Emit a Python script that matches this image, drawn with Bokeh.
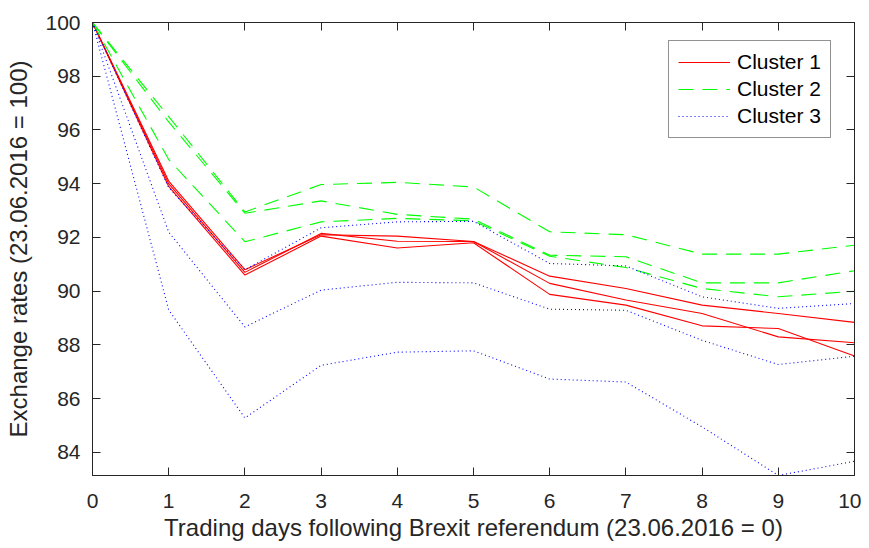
from bokeh.plotting import figure
from bokeh.models import Range1d, LinearAxis, FixedTicker, Legend, LegendItem
from bokeh.embed import file_html
from bokeh.resources import INLINE

days = list(range(11))

cluster1 = [
    [100, 94.10, 90.80, 92.10, 92.05, 91.85, 90.56, 90.10, 89.48, 89.17, 88.84],
    [100, 94.00, 90.70, 92.15, 91.86, 91.85, 90.29, 89.67, 89.17, 88.30, 88.08],
    [100, 93.90, 90.60, 92.05, 91.61, 91.80, 89.88, 89.48, 88.71, 88.61, 87.59],
]
cluster2 = [
    [100, 96.50, 92.95, 93.97, 94.05, 93.88, 92.21, 92.10, 91.38, 91.38, 91.71],
    [100, 96.30, 92.90, 93.36, 92.86, 92.68, 91.34, 91.28, 90.31, 90.31, 90.76],
    [100, 94.90, 91.84, 92.58, 92.71, 92.62, 91.30, 90.88, 90.10, 89.79, 90.00],
]
cluster3 = [
    [100, 93.85, 90.80, 92.36, 92.58, 92.60, 91.03, 90.94, 89.79, 89.36, 89.54],
    [100, 92.20, 88.67, 90.04, 90.33, 90.31, 89.33, 89.29, 88.17, 87.27, 87.58],
    [100, 89.30, 85.28, 87.24, 87.73, 87.78, 86.73, 86.62, 84.95, 83.14, 83.67],
]
legend_labels = ["Cluster 1", "Cluster 2", "Cluster 3"]
x_ticks = list(range(0, 11))
y_ticks = list(range(84, 101, 2))

FONT = "Liberation Sans"
TXT = "#262626"

all_vals = [v for grp in (cluster1, cluster2, cluster3) for s in grp for v in s]
y_lo = min(all_vals)
y_hi = max(all_vals)

p = figure(width=861, height=548, output_backend="svg", toolbar_location=None,
           x_range=Range1d(0, 10), y_range=Range1d(y_lo, y_hi),
           min_border_left=92, min_border_right=7, min_border_top=22, min_border_bottom=73)
p.xgrid.visible = False
p.ygrid.visible = False
p.outline_line_color = TXT
p.outline_line_width = 1
p.background_fill_color = "white"
p.border_fill_color = "white"

styles = [
    dict(color="#FF0000", line_dash="solid"),
    dict(color="#00FF00", line_dash="15 9"),
    dict(color="#0000FF", line_dash="1 3"),
]
items = []
for grp, st, lab in zip((cluster1, cluster2, cluster3), styles, legend_labels):
    rs = []
    for s in grp:
        r = p.line(days, s, line_color=st["color"], line_dash=st["line_dash"], line_width=1.1)
        rs.append(r)
    items.append(LegendItem(label=lab, renderers=[rs[0]]))

legend = Legend(items=items, location=(576, 337))
legend.label_text_font = FONT
legend.label_text_font_size = "21px"
legend.label_text_color = "black"
legend.glyph_width = 52
legend.glyph_height = 18
legend.label_height = 18
legend.label_standoff = 7
legend.spacing = 3
legend.padding = 9
legend.margin = 0
legend.border_line_color = TXT
legend.border_line_width = 1
legend.background_fill_color = "white"
legend.background_fill_alpha = 1
p.add_layout(legend, "center")

def style_axis(ax, ticks):
    ax.ticker = FixedTicker(ticks=ticks)
    ax.axis_line_color = TXT
    ax.axis_line_width = 1
    ax.major_tick_line_color = TXT
    ax.major_tick_in = 8
    ax.major_tick_out = 0
    ax.minor_tick_line_color = None
    ax.major_label_text_font = FONT
    ax.major_label_text_color = TXT
    ax.axis_label_text_font = FONT
    ax.axis_label_text_color = TXT
    ax.axis_label_text_font_style = "normal"

style_axis(p.xaxis[0], x_ticks)
style_axis(p.yaxis[0], y_ticks)
p.xaxis[0].major_label_text_font_size = "21px"
p.yaxis[0].major_label_text_font_size = "21px"
p.xaxis[0].axis_label = "Trading days following Brexit referendum (23.06.2016 = 0)"
p.yaxis[0].axis_label = "Exchange rates (23.06.2016 = 100)"
p.xaxis[0].axis_label_text_font_size = "24px"
p.yaxis[0].axis_label_text_font_size = "24px"
p.xaxis[0].major_label_standoff = 18
p.yaxis[0].major_label_standoff = 12
p.xaxis[0].axis_label_standoff = 3
p.yaxis[0].axis_label_standoff = 10

top = LinearAxis()
style_axis(top, x_ticks)
top.major_label_text_font_size = "1px"
top.major_label_text_color = None
top.major_label_standoff = 0
p.add_layout(top, "above")
right = LinearAxis()
style_axis(right, y_ticks)
right.major_label_text_font_size = "1px"
right.major_label_text_color = None
right.major_label_standoff = 0
p.add_layout(right, "right")

open("out.html", "w").write(file_html(p, INLINE))
